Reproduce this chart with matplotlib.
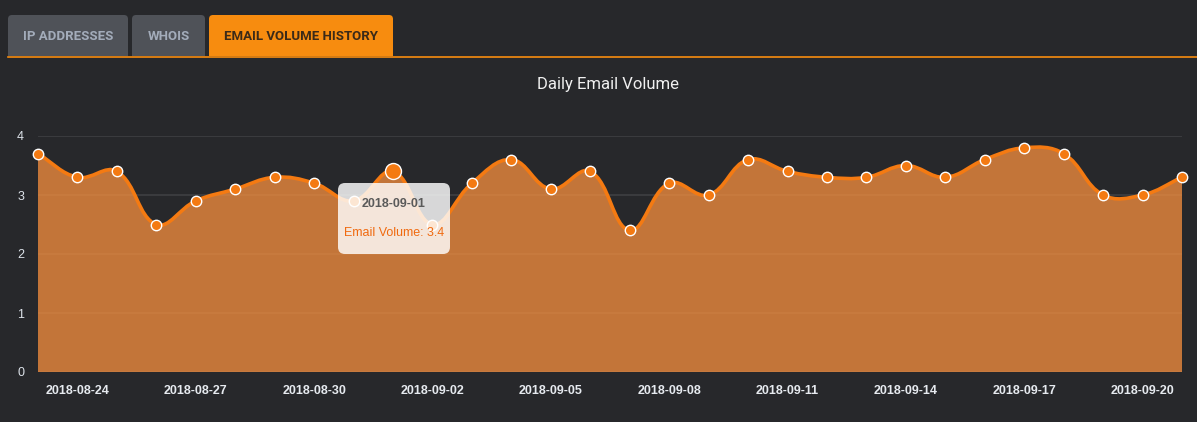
import matplotlib
matplotlib.use("Agg")
import matplotlib.pyplot as plt
from matplotlib.path import Path
from matplotlib.patches import PathPatch, FancyBboxPatch, Rectangle
import numpy as np

# Data
dates = ["2018-08-23", "2018-08-24", "2018-08-25", "2018-08-26", "2018-08-27",
         "2018-08-28", "2018-08-29", "2018-08-30", "2018-08-31", "2018-09-01",
         "2018-09-02", "2018-09-03", "2018-09-04", "2018-09-05", "2018-09-06",
         "2018-09-07", "2018-09-08", "2018-09-09", "2018-09-10", "2018-09-11",
         "2018-09-12", "2018-09-13", "2018-09-14", "2018-09-15", "2018-09-16",
         "2018-09-17", "2018-09-18", "2018-09-19", "2018-09-20", "2018-09-21"]
volume = [3.7, 3.3, 3.4, 2.5, 2.9, 3.1, 3.3, 3.2, 2.9, 3.4,
          2.5, 3.2, 3.6, 3.1, 3.4, 2.4, 3.2, 3.0, 3.6, 3.4,
          3.3, 3.3, 3.5, 3.3, 3.6, 3.8, 3.7, 3.0, 3.0, 3.3]
tick_every = 3
tabs = ["IP ADDRESSES", "WHOIS", "EMAIL VOLUME HISTORY"]
title = "Daily Email Volume"
hover_idx = 9

BG = "#27282b"
ORANGE = "#f47a12"
FILL = "#f08c3e"
W, H = 1197, 422
CHART_FONT = ["Liberation Sans", "DejaVu Sans"]

fig = plt.figure(figsize=(W / 100, H / 100), dpi=100, facecolor=BG)
plt.rcParams["font.family"] = ["Roboto", "DejaVu Sans"]

# chart area in pixels
L, R, T, B = 38, 1182, 136, 372
ax = fig.add_axes([L / W, (H - B) / H, (R - L) / W, (B - T) / H])
ax.set_facecolor(BG)
x = np.arange(len(volume))
ax.set_xlim(0, len(volume) - 1)
ax.set_ylim(0, 4)
for s in ax.spines.values():
    s.set_visible(False)
ax.set_yticks([0, 1, 2, 3, 4])
ax.set_yticklabels(["0", "1", "2", "3", "4"], family=CHART_FONT, fontsize=9, color="#dde3ea")
ax.grid(axis="y", color="#3f4043", linewidth=1.2, zorder=0)
ax.tick_params(axis="y", length=0, pad=10)
ax.set_xticks(x[1::tick_every])
ax.set_xticklabels(dates[1::tick_every], family=CHART_FONT, fontsize=9, fontweight="bold",
                   color="#e6eaef")
ax.tick_params(axis="x", length=0, pad=9)

# bezier control points (chart.js style, tension 0.4) in pixel units
sx = (R - L) / (len(volume) - 1)
sy = (B - T) / 4.0
px = x * sx
py = np.array(volume) * sy
tension = 0.4
n = len(volume)
cp_prev = [None] * n
cp_next = [None] * n
for i in range(n):
    p0 = (px[max(i - 1, 0)], py[max(i - 1, 0)])
    p1 = (px[i], py[i])
    p2 = (px[min(i + 1, n - 1)], py[min(i + 1, n - 1)])
    d01 = np.hypot(p1[0] - p0[0], p1[1] - p0[1])
    d12 = np.hypot(p2[0] - p1[0], p2[1] - p1[1])
    tot = d01 + d12
    s01 = d01 / tot if tot else 0
    s12 = d12 / tot if tot else 0
    fa, fb = tension * s01, tension * s12
    cp_prev[i] = (p1[0] - fa * (p2[0] - p0[0]), p1[1] - fa * (p2[1] - p0[1]))
    cp_next[i] = (p1[0] + fb * (p2[0] - p0[0]), p1[1] + fb * (p2[1] - p0[1]))

verts = [(px[0] / sx, py[0] / sy)]
codes = [Path.MOVETO]
for i in range(n - 1):
    a, b = cp_next[i], cp_prev[i + 1]
    verts += [(a[0] / sx, min(a[1] / sy, 4)), (b[0] / sx, min(b[1] / sy, 4)), (x[i + 1], volume[i + 1])]
    codes += [Path.CURVE4] * 3
line_path = Path(verts, codes)
fill_path = Path(verts + [(x[-1], 0), (x[0], 0), verts[0]],
                 codes + [Path.LINETO, Path.LINETO, Path.CLOSEPOLY])
ax.add_patch(PathPatch(fill_path, facecolor=FILL, alpha=0.78, edgecolor="none", zorder=2))
ax.add_patch(PathPatch(line_path, facecolor="none", edgecolor=ORANGE, linewidth=2.6, zorder=3))
ax.plot(x, volume, "o", markersize=7.5, markerfacecolor=ORANGE, markeredgecolor="white",
        markeredgewidth=1.0, zorder=4, clip_on=False)
ax.plot(x[hover_idx], volume[hover_idx], "o", markersize=11.5, markerfacecolor=ORANGE,
        markeredgecolor="white", markeredgewidth=1.0, zorder=4, clip_on=False)

# overlay in pixel coordinates for tabs and tooltip
ov = fig.add_axes([0, 0, 1, 1], zorder=5)
ov.set_xlim(0, W)
ov.set_ylim(H, 0)
ov.axis("off")
ov.patch.set_alpha(0)

tab_boxes = [(8, 128), (132, 205), (209, 393)]
for (x0, x1), label in zip(tab_boxes, tabs):
    active = label == tabs[-1]
    col = "#f78c0f" if active else "#4f5258"
    ov.add_patch(FancyBboxPatch((x0, 15), x1 - x0, 41, boxstyle="round,pad=0,rounding_size=4",
                                facecolor=col, edgecolor="none"))
    ov.add_patch(Rectangle((x0, 40), x1 - x0, 16, facecolor=col, edgecolor="none"))
    ov.text((x0 + x1) / 2, 36, label, ha="center", va="center", fontsize=9.5, fontweight="bold",
            color="#3b2a18" if active else "#a3acba")
ov.plot([8, W], [56.5, 56.5], color="#f78c0f", linewidth=1.2)

ov.text(608, 85, title, ha="center", va="center", fontsize=12, color="#f0f0f0")

# tooltip
ov.add_patch(FancyBboxPatch((338, 183), 112, 71, boxstyle="round,pad=0,rounding_size=7",
                            facecolor="white", alpha=0.82, edgecolor="none"))
ov.text(394, 204, dates[hover_idx], ha="center", va="center", fontsize=9, fontweight="bold",
        color="#5a5a5a", family=CHART_FONT)
ov.text(394, 233, f"Email Volume: {volume[hover_idx]}", ha="center", va="center", fontsize=9,
        color="#f06a10", family=CHART_FONT)

fig.savefig("out.png", dpi=100, facecolor=BG)
